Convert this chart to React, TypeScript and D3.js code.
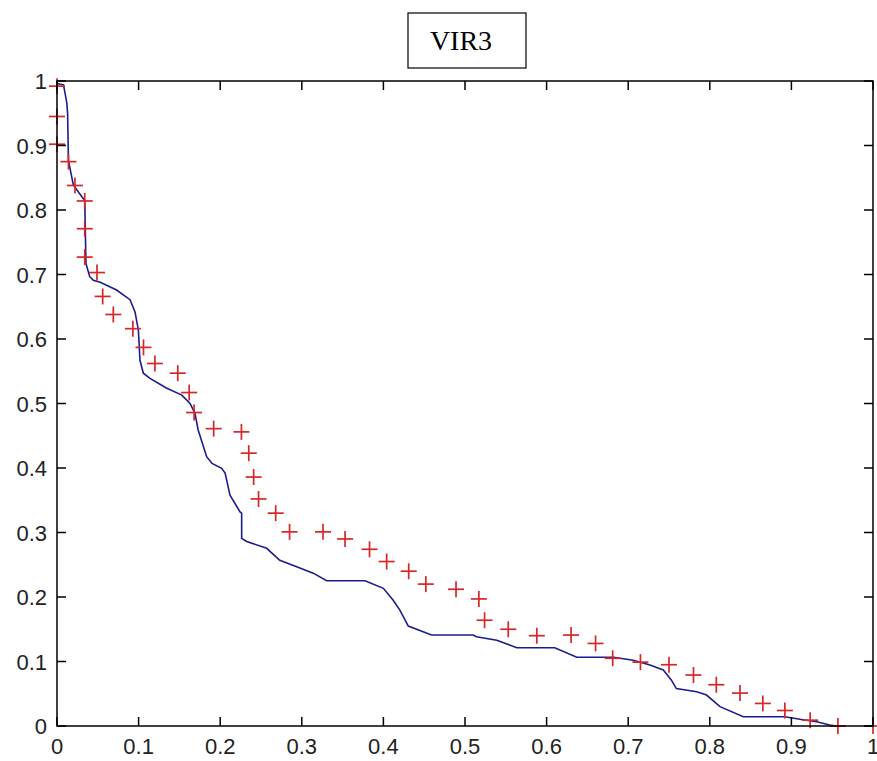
import React from 'react';
import * as d3 from 'd3';

const width = 877;
const height = 761;
const margin = { top: 81, right: 4, bottom: 35, left: 57 };

const title = 'VIR3';
const xTicks = [0, 0.1, 0.2, 0.3, 0.4, 0.5, 0.6, 0.7, 0.8, 0.9, 1];
const yTicks = [0, 0.1, 0.2, 0.3, 0.4, 0.5, 0.6, 0.7, 0.8, 0.9, 1];

// empirical curve (blue line)
const curveX = [0, 0.008, 0.012, 0.013, 0.014, 0.02, 0.032, 0.034, 0.0355, 0.04, 0.0445, 0.053, 0.073, 0.0895, 0.0956, 0.0997, 0.1017, 0.1058, 0.114, 0.134, 0.153, 0.163, 0.169, 0.173, 0.1834, 0.19, 0.2018, 0.206, 0.212, 0.2243, 0.2263, 0.2263, 0.2325, 0.257, 0.273, 0.2937, 0.314, 0.3305, 0.3775, 0.4, 0.412, 0.42, 0.4305, 0.459, 0.51, 0.514, 0.539, 0.5634, 0.61, 0.637, 0.682, 0.706, 0.7267, 0.743, 0.753, 0.759, 0.784, 0.796, 0.8125, 0.841, 0.892, 0.9105, 0.931, 0.947, 0.955];
const curveY = [0.996, 0.994, 0.966, 0.95, 0.877, 0.839, 0.818, 0.815, 0.717, 0.697, 0.691, 0.688, 0.676, 0.661, 0.642, 0.614, 0.567, 0.547, 0.539, 0.524, 0.513, 0.5, 0.485, 0.459, 0.4175, 0.407, 0.3995, 0.392, 0.358, 0.332, 0.33, 0.291, 0.286, 0.2755, 0.257, 0.247, 0.237, 0.2253, 0.2253, 0.2135, 0.195, 0.18, 0.155, 0.141, 0.141, 0.1385, 0.133, 0.1214, 0.1214, 0.1065, 0.1065, 0.102, 0.0946, 0.087, 0.071, 0.058, 0.053, 0.048, 0.03, 0.0144, 0.0144, 0.0104, 0.0067, 0.0016, 0];

// model points (red crosses)
const pointX = [0, 0, 0, 0.014, 0.022, 0.034, 0.034, 0.034, 0.049, 0.056, 0.069, 0.093, 0.106, 0.12, 0.148, 0.162, 0.168, 0.192, 0.226, 0.235, 0.241, 0.247, 0.268, 0.285, 0.326, 0.353, 0.383, 0.404, 0.431, 0.452, 0.489, 0.517, 0.524, 0.553, 0.588, 0.63, 0.66, 0.681, 0.715, 0.75, 0.78, 0.808, 0.837, 0.865, 0.892, 0.923, 0.957, 1];
const pointY = [0.992, 0.945, 0.902, 0.875, 0.838, 0.814, 0.771, 0.727, 0.703, 0.666, 0.638, 0.616, 0.587, 0.562, 0.547, 0.517, 0.486, 0.461, 0.456, 0.423, 0.386, 0.352, 0.33, 0.301, 0.301, 0.29, 0.274, 0.255, 0.24, 0.22, 0.212, 0.197, 0.164, 0.15, 0.14, 0.141, 0.128, 0.105, 0.099, 0.095, 0.079, 0.064, 0.051, 0.035, 0.024, 0.009, 0, 0];

const x = d3.scaleLinear().domain([0, 1]).range([margin.left, width - margin.right]);
const y = d3.scaleLinear().domain([0, 1]).range([height - margin.bottom, margin.top]);

const tick = 9;
const fmt = (d: number) => (d === 0 || d === 1 ? String(d) : d3.format('.1f')(d));

export default function App() {
  const line = d3
    .line<number>()
    .x((_, i) => x(curveX[i]))
    .y(d => y(d));
  const left = x(0);
  const right = x(1);
  const top = y(1);
  const bottom = y(0);

  return (
    <svg
      width={width}
      height={height}
      style={{ position: 'absolute', left: 0, top: 0, background: '#fff' }}
      fontFamily="'Liberation Sans', Arial, sans-serif"
    >
      <rect x={408} y={13} width={118} height={55} fill="#fff" stroke="#000" strokeWidth={1.2} />
      <text x={461} y={50} textAnchor="middle" fontFamily="'Liberation Serif', 'Times New Roman', serif" fontSize={28}>
        {title}
      </text>

      <path d={line(curveY) || ''} fill="none" stroke="#1c1c8c" strokeWidth={1.6} />

      {pointX.map((px, i) => {
        const cx = x(px);
        const cy = y(pointY[i]);
        return (
          <g key={i} stroke="#d6262a" strokeWidth={1.7}>
            <line x1={cx - 8} x2={cx + 8} y1={cy} y2={cy} />
            <line x1={cx} x2={cx} y1={cy - 8} y2={cy + 8} />
          </g>
        );
      })}

      <g stroke="#000" strokeWidth={1.5}>
        <rect x={left} y={top} width={right - left} height={bottom - top} fill="none" />
        {xTicks.map(t => (
          <g key={'x' + t}>
            <line x1={x(t)} x2={x(t)} y1={bottom} y2={bottom - tick} />
            <line x1={x(t)} x2={x(t)} y1={top} y2={top + tick} />
          </g>
        ))}
        {yTicks.map(t => (
          <g key={'y' + t}>
            <line x1={left} x2={left + tick} y1={y(t)} y2={y(t)} />
            <line x1={right} x2={right - tick} y1={y(t)} y2={y(t)} />
          </g>
        ))}
      </g>

      {xTicks.map(t => (
        <text key={'xl' + t} x={x(t)} y={bottom + 28} textAnchor="middle" fontSize={22} fill="#222">
          {fmt(t)}
        </text>
      ))}
      {yTicks.map(t => (
        <text key={'yl' + t} x={left - 10} y={y(t) + 8} textAnchor="end" fontSize={22} fill="#222">
          {fmt(t)}
        </text>
      ))}
    </svg>
  );
}
